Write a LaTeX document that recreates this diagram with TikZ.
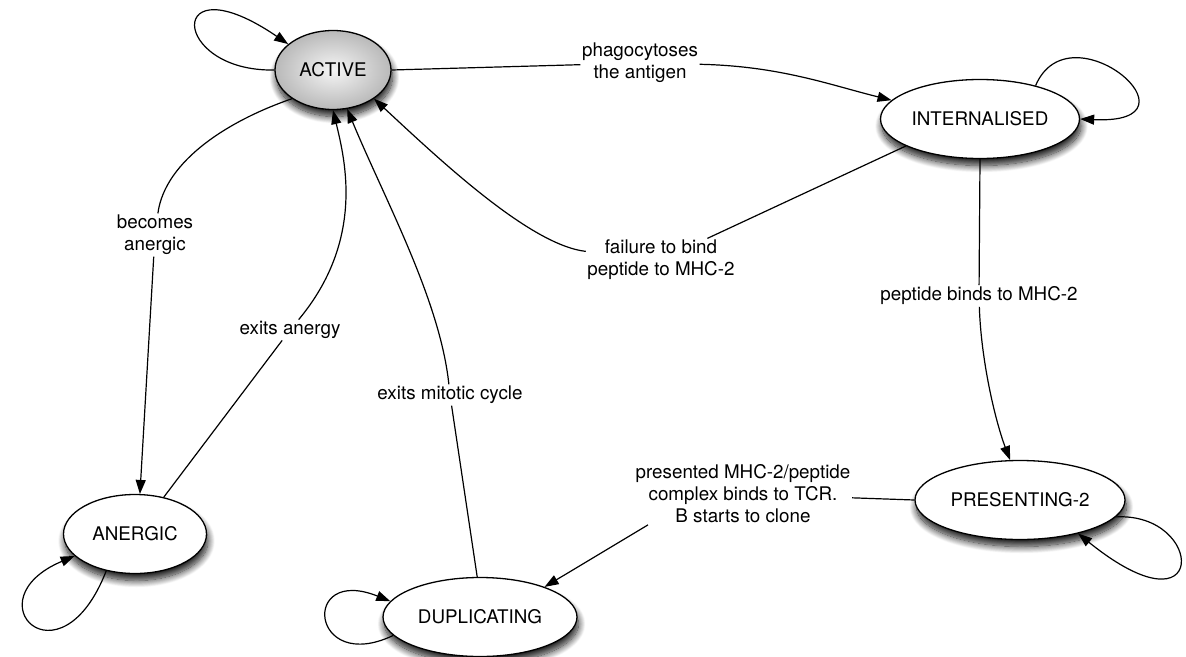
\documentclass[tikz,border=0pt]{standalone}
\usepackage{fontspec}
\setmainfont{TeX Gyre Heros}
\usetikzlibrary{arrows.meta,shapes.geometric,shadows.blur}

\begin{document}
\begin{tikzpicture}[x=1pt,y=-1pt,
  every node/.style={font=\fontsize{18.8pt}{22pt}\selectfont},
  state/.style={ellipse, draw=black, line width=1.3pt, fill=white, inner sep=0pt,
    minimum height=79pt,
    blur shadow={shadow xshift=1.5pt, shadow yshift=-7pt, shadow blur radius=7pt,
      shadow blur steps=14, shadow opacity=90}},
  activestate/.style={state, shading=radial, inner color=gray!8, outer color=gray!55},
  lbl/.style={inner sep=1.5pt, align=center},
  conn/.style={line width=1.2pt, draw=black},
  arr/.style={conn, -{Triangle[length=14pt,width=10pt]}},
]
\useasboundingbox (0,0) rectangle (1186,656);

% states
\node[activestate, minimum width=116pt] (active) at (333,70) {ACTIVE};
\node[state, minimum width=199pt] (internalised) at (980,119) {INTERNALISED};
\node[state, minimum width=210pt] (presenting) at (1020,500) {PRESENTING-2};
\node[state, minimum width=143pt] (anergic) at (135,534) {ANERGIC};
\node[state, minimum width=194pt] (duplicating) at (480,617) {DUPLICATING};

% transition labels
\node[lbl] (lblphago) at (640,63) {phagocytoses\\the antigen};
\node[lbl] (lblfail) at (661,260) {failure to bind\\peptide to MHC-2};
\node[lbl] (lblpep) at (979,296) {peptide binds to MHC-2};
\node[lbl] (lblpres) at (743,494) {presented MHC-2/peptide\\complex binds to TCR.\\B starts to clone};
\node[lbl] (lblmit) at (450,395) {exits mitotic cycle};
\node[lbl] (lblexa) at (290,330) {exits anergy};
\node[lbl] (lblbec) at (155,235) {becomes\\anergic};

% transitions
\draw[conn] (active.east) -- (lblphago);
\draw[arr] (lblphago) .. controls (780,66) and (830,85) .. (internalised.168);

\draw[conn] (internalised.200) -- (lblfail);
\draw[arr] (lblfail) .. controls (530,245) and (440,160) .. (active.-35);

\draw[conn] (internalised.south) -- (lblpep);
\draw[arr] (lblpep) .. controls (981,360) and (995,420) .. (presenting.104);

\draw[conn] (presenting.west) -- (lblpres);
\draw[arr] (lblpres.198) -- (duplicating.25);

\draw[conn] (duplicating.94) -- (lblmit);
\draw[arr] (lblmit) .. controls (440,300) and (385,200) .. (active.-70);

\draw[conn] (anergic.52) -- (lblexa);
\draw[arr] (lblexa) .. controls (365,240) and (345,160) .. (active.south);

\draw[conn] (active.215) .. controls (230,120) and (165,160) .. (lblbec);
\draw[arr] (lblbec) -- (anergic.83);

% self loops
\draw[arr] (active.west) .. controls (170,72) and (165,-40) .. (active.150);
\draw[arr] (internalised.31) .. controls (1070,5) and (1210,125) .. (internalised.east);
\draw[arr] (presenting.-10) .. controls (1205,512) and (1210,640) .. (presenting.-30);
\draw[arr] (anergic.232) .. controls (60,690) and (-30,600) .. (anergic.200);
\draw[arr] (duplicating.192) .. controls (310,675) and (300,565) .. (duplicating.170);
\end{tikzpicture}
\end{document}
